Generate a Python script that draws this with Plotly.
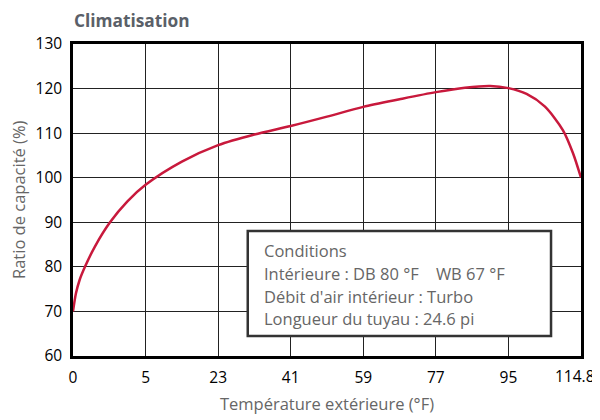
import plotly.graph_objects as go

# X axis tick labels (evenly spaced categories)
temp_labels = ["0", "5", "23", "41", "59", "77", "95", "114.8"]
# curve: position along tick index, capacity ratio (%)
curve_pos = [0, 0.04, 0.09, 0.165, 0.3, 0.51, 0.75, 1.0, 1.5, 2.0, 2.5, 3.0, 3.5, 4.0, 4.5, 5.0, 5.4, 5.75, 6.0, 6.25, 6.5, 6.75, 6.89, 7.0]
curve_val = [70, 74.0, 77.0, 80, 84.5, 90, 94.7, 98.4, 103.6, 107.3, 109.7, 111.6, 113.7, 115.9, 117.6, 119.2, 120.2, 120.6, 120.1, 118.8, 116.0, 110.7, 105.5, 100]
conditions = ["Conditions", "Intérieure : DB 80 °F    WB 67 °F", "Débit d'air intérieur : Turbo", "Longueur du tuyau : 24.6 pi"]

FONT = "Open Sans"
fig = go.Figure()
fig.add_trace(go.Scatter(x=curve_pos, y=curve_val, mode="lines",
                         line=dict(color="#c8193c", width=2.5, shape="spline", smoothing=0.8),
                         hoverinfo="skip", showlegend=False))

tick_idx = list(range(len(temp_labels)))
fig.update_layout(
    width=600, height=420,
    margin=dict(l=65, r=27, t=36, b=72),
    paper_bgcolor="white", plot_bgcolor="white",
    font=dict(family=FONT, size=14, color="black"),
    showlegend=False,
    xaxis=dict(range=[0, 7], tickvals=tick_idx, ticktext=temp_labels[:-1] + [""],
               showgrid=True, gridcolor="#222", gridwidth=1, zeroline=False,
               showline=True, linecolor="black", linewidth=2.5, mirror=True,
               ticks="", tickfont=dict(size=15.5, color="black"), ticklabeloverflow="allow",
               ticklabelstandoff=6, automargin=False,
               title=dict(text="Température extérieure (°F)", font=dict(size=16.5, color="#666"), standoff=12)),
    yaxis=dict(range=[60, 130], dtick=10,
               showgrid=True, gridcolor="#222", gridwidth=1, zeroline=False,
               showline=True, linecolor="black", linewidth=2.5, mirror=True,
               ticks="", tickfont=dict(size=15.5, color="black"), ticklabeloverflow="allow",
               ticklabelstandoff=5, automargin=False),
)

# last x tick label, kept inside the page (right-aligned like the reference)
fig.add_annotation(text=temp_labels[-1], xref="x", yref="paper", x=tick_idx[-1], y=0,
                   xanchor="right", yanchor="top", xshift=16, yshift=-7, showarrow=False,
                   font=dict(size=15.5, color="black", family=FONT))

# y axis title
fig.add_annotation(text="Ratio de capacité (%)", xref="paper", yref="paper", x=0, y=0.5,
                   xshift=-55, textangle=-90, xanchor="center", yanchor="middle", showarrow=False,
                   font=dict(size=16.5, color="#666", family=FONT))

fig.add_annotation(text="<b>Climatisation</b>", xref="paper", yref="paper", x=0, y=1, yshift=36,
                   xanchor="left", yanchor="top", showarrow=False, borderpad=0,
                   font=dict(size=17.3, color="#5a6068", family=FONT))

fig.add_shape(type="rect", xref="paper", yref="paper", x0=0.344, x1=0.941, y0=0.064, y1=0.401,
              line=dict(color="#333", width=2.5), fillcolor="white", layer="above")

line_y = [0.338, 0.266, 0.192, 0.119]
for txt, yy in zip(conditions, line_y):
    fig.add_annotation(text=txt, xref="paper", yref="paper", x=0.372, y=yy,
                       xanchor="left", yanchor="middle", showarrow=False,
                       font=dict(size=16.5, color="#666", family=FONT))

fig.write_html("out.html")
